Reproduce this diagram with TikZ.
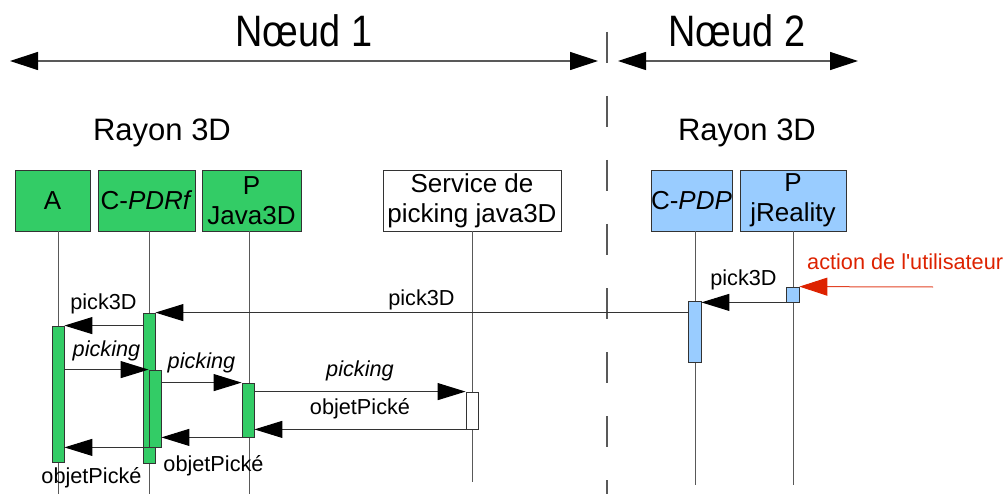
\documentclass[tikz,border=0pt]{standalone}
\usepackage{fontspec}
\setmainfont{Liberation Sans}
\usetikzlibrary{arrows.meta, positioning, calc}
\definecolor{nodegreen}{HTML}{33CC66}
\definecolor{nodeblue}{HTML}{99CCFF}
\definecolor{lifegrey}{HTML}{595959}
\definecolor{linedark}{HTML}{333333}
\definecolor{useractred}{HTML}{DD2200}

\begin{document}
\begin{tikzpicture}[
    x=1pt, y=-1pt,
    % ── Head boxes ───────────────────────────────────────────────────────
    head/.style={
        draw=linedark, line width=0.8pt, minimum height=61pt,
        inner sep=0pt, align=center,
        font=\fontsize{26}{30}\selectfont
    },
    greenhead/.style={head, fill=nodegreen},
    bluehead/.style={head, fill=nodeblue},
    whitehead/.style={head, fill=white},
    % ── Activation bars ──────────────────────────────────────────────────
    bar/.style={
        draw=linedark, line width=0.8pt, minimum width=12pt, inner sep=0pt
    },
    greenbar/.style={bar, fill=nodegreen},
    bluebar/.style={bar, fill=nodeblue},
    whitebar/.style={bar, fill=white},
    life/.style={draw=lifegrey, line width=1pt},
    % ── Messages ─────────────────────────────────────────────────────────
    msg/.style={
        draw=linedark, line width=1pt,
        -{Triangle[length=28pt, width=17pt, color=black, fill=black]}
    },
    useract/.style={
        draw=useractred!85!white, line width=1pt,
        -{Triangle[length=28pt, width=18pt, color=useractred, fill=useractred]}
    },
    lbl/.style={font=\fontsize{21.7}{26}\selectfont, inner sep=2pt},
    userlbl/.style={lbl, text=useractred},
    % ── Header ───────────────────────────────────────────────────────────
    span/.style={
        draw=lifegrey, line width=1.2pt,
        {Triangle[length=28pt, width=18pt, color=black, fill=black]}-%
        {Triangle[length=28pt, width=18pt, color=black, fill=black]}
    },
    title/.style={font=\fontsize{44}{50}\selectfont, inner sep=0pt},
    group/.style={font=\fontsize{31}{36}\selectfont, inner sep=0pt},
    separator/.style={
        draw=lifegrey, line width=1.2pt, dash pattern=on 31pt off 33pt
    }
]
\useasboundingbox (0,0) rectangle (1008,494);

% ═══════════════════════════════════════════════════════════════════════════
% Header
% ═══════════════════════════════════════════════════════════════════════════
\node[title] (noeud1) at (304,31) {\scalebox{0.86}[1]{Nœud 1}};
\node[title] (noeud2) at (737,31) {\scalebox{0.86}[1]{Nœud 2}};
\coordinate (n1left)  at (10,61);
\coordinate (n1right) at (598,61);
\coordinate (n2left)  at (618,61);
\coordinate (n2right) at (858,61);
\draw[span] (n1left) -- (n1right);
\draw[span] (n2left) -- (n2right);

\coordinate (septop) at (607,32);
\coordinate (sepbot) at (607,494);
\draw[separator] (septop) -- (sepbot);

\node[group] (rayon1) at (162,133) {Rayon 3D};
\node[group] (rayon2) at (747,133) {Rayon 3D};

% ═══════════════════════════════════════════════════════════════════════════
% Participants
% ═══════════════════════════════════════════════════════════════════════════
\node[greenhead, minimum width=75pt]  (a)    at (52.5,200.5)  {A};
\node[greenhead, minimum width=97pt]  (pdrf) at (146.5,200.5) {C-\textit{PDRf}};
\node[greenhead, minimum width=99pt]  (java) at (251.5,200.5) {P\\Java3D};
\node[whitehead, minimum width=178pt] (serv) at (472,200.5)   {Service de\\picking java3D};
\node[bluehead, minimum width=81pt]   (pdp)  at (691.5,200.5) {C-\textit{PDP}};
\node[bluehead, minimum width=106pt]  (jr)   at (793,200.5)   {P\\jReality};

% Lifelines
\draw[life] (a.south -| 58,0)     -- (58,494);
\draw[life] (pdrf.south -| 149,0) -- (149,494);
\draw[life] (java.south -| 249,0) -- (249,494);
\draw[life] (serv.south)          -- (472,482);
\draw[life] (pdp.south -| 695,0)  -- (695,485);
\draw[life] (jr.south)            -- (793,485);

% Activation bars
\node[greenbar, minimum height=136pt] (abar)    at (58,394)    {};
\node[greenbar, minimum height=150pt] (pdrfbar) at (149,388)   {};
\node[greenbar, minimum height=77pt]  (subbar)  at (155,408.5) {};
\node[greenbar, minimum height=54pt]  (javabar) at (248,410)   {};
\node[whitebar, minimum height=37pt]  (servbar) at (472,410.5) {};
\node[bluebar, minimum height=61pt, minimum width=13pt] (pdpbar) at (694.5,331.5) {};
\node[bluebar, minimum height=15pt, minimum width=13pt] (jrbar)  at (792.5,294.5) {};

% ═══════════════════════════════════════════════════════════════════════════
% Messages
% ═══════════════════════════════════════════════════════════════════════════
\coordinate (user) at (933,287);
\draw[useract] (user) -- (jrbar.north east);
\node[userlbl, anchor=west] (action) at (805,262)
    {action de l\textquotesingle utilisateur};

\draw[msg] (jrbar.south west) -- (jrbar.south west -| pdpbar.east)
    node[lbl, midway, above=10pt] {pick3D};
\draw[msg] (pdpbar.west |- pdrfbar.north) -- (pdrfbar.north east)
    node[lbl, midway, above=0pt] {pick3D};
\draw[msg] (pdrfbar.west |- abar.north) -- (abar.north east)
    node[lbl, midway, above=9pt] {pick3D};

\draw[msg] (abar.east |- subbar.north) -- (subbar.north west)
    node[lbl, midway, above=6pt] {\textit{picking}};
\draw[msg] (subbar.east |- javabar.north) -- (javabar.north west)
    node[lbl, midway, above=7pt] {\textit{picking}};
\draw[msg] (javabar.east |- servbar.north) -- (servbar.north west)
    node[lbl, midway, above=8pt] {\textit{picking}};

\draw[msg] (servbar.south west) -- (servbar.south west -| javabar.east)
    node[lbl, midway, above=8pt] {objetPické};
\draw[msg] (javabar.south west) -- (javabar.south west -| subbar.east)
    node[lbl, midway, below=16pt, xshift=12pt] {objetPické};
\draw[msg] (subbar.south west) -- (subbar.south west -| abar.east)
    node[lbl, midway, below=18pt, xshift=-15pt] {objetPické};

\end{tikzpicture}
\end{document}
